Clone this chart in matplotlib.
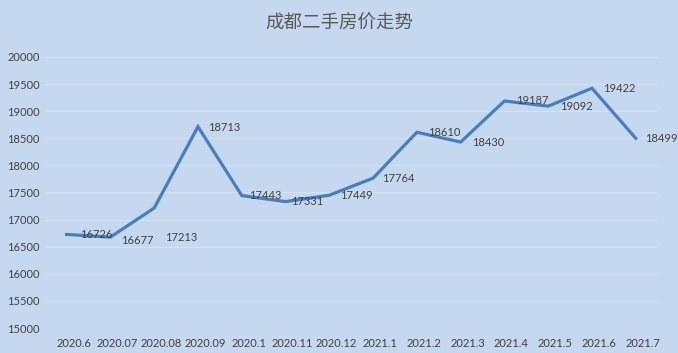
# 成都二手房价走势 line chart
import matplotlib.pyplot as plt
import matplotlib.transforms as mtransforms

plt.rcParams['font.family'] = ['Lato', 'Noto Sans CJK SC', 'DejaVu Sans']

months = ['2020.6', '2020.07', '2020.08', '2020.09', '2020.1', '2020.11', '2020.12',
          '2021.1', '2021.2', '2021.3', '2021.4', '2021.5', '2021.6', '2021.7']
prices = [16726, 16677, 17213, 18713, 17443, 17331, 17449,
          17764, 18610, 18430, 19187, 19092, 19422, 18499]
# label offsets in pixels (dx, dy)
label_offsets = [(13, 0), (11, -3), (11, -29), (10, -1), (7, 0), (6, 0), (11, 0),
                 (9, 0), (11, 0), (11, 0), (12, 0), (12, 0), (11, 0), (9, 0)]

bg = '#c6d8ef'
fig = plt.figure(figsize=(6.78, 3.53), dpi=100, facecolor=bg)
ax = fig.add_axes([0.066, 0.0708, 0.904, 0.768], facecolor=bg)

x = list(range(len(months)))
ax.plot(x, prices, color='#4a7ebb', linewidth=2.3, solid_joinstyle='miter', zorder=3)

for i, v in enumerate(prices):
    ax.annotate(str(v), (i, v), xytext=label_offsets[i], textcoords='offset pixels',
                ha='left', va='center', fontsize=8, color='#404040', zorder=4)

ax.set_xlim(-0.5, 13.5)
ax.set_ylim(15000, 20000)
ax.set_yticks(range(15000, 20001, 500))
ax.set_xticks(x)
ax.set_xticklabels(months)
ax.tick_params(length=0, labelsize=8, labelcolor='#404040')
ax.tick_params(axis='y', pad=27)
for lab in ax.get_yticklabels():
    lab.set_horizontalalignment('left')
ax.tick_params(axis='x', pad=7)
shift = mtransforms.ScaledTranslation(7 / 100, 0, fig.dpi_scale_trans)
for lab in ax.get_xticklabels():
    lab.set_transform(lab.get_transform() + shift)
ax.grid(axis='y', color='#d6e2f2', linewidth=0.8)
for s in ax.spines.values():
    s.set_visible(False)

fig.text(0.5, 0.935, '成都二手房价走势', ha='center', va='center',
         fontsize=13.3, color='#595959')

fig.savefig('out.png', dpi=100, facecolor=bg)
